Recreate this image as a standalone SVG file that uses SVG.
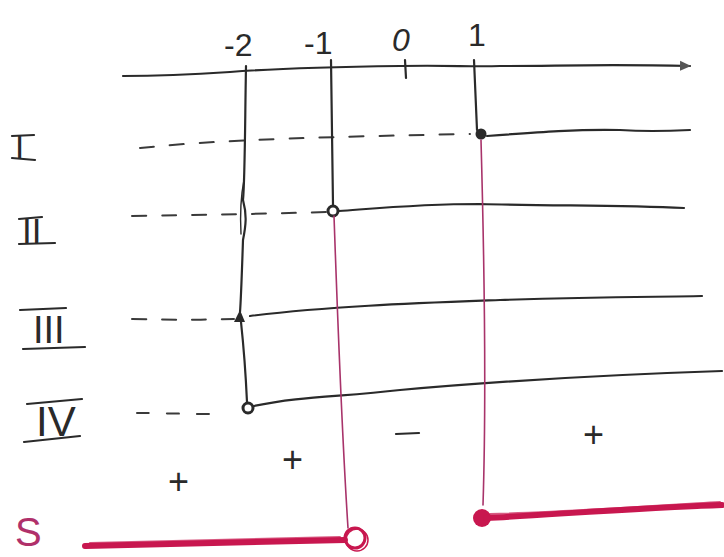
<svg xmlns="http://www.w3.org/2000/svg" width="724" height="557" viewBox="0 0 724 557">
<style>
.ink{fill:none;stroke:#2a2a2a;stroke-width:2.2;stroke-linecap:round;stroke-linejoin:round}
.dash{fill:none;stroke:#3a3a3a;stroke-width:2;stroke-linecap:round;stroke-dasharray:14 16}
.pk{fill:none;stroke:#a8336a;stroke-width:1.6;stroke-linecap:round}
.pkb{fill:none;stroke:#c8174f;stroke-width:6;stroke-linecap:round}
.lbl{font-family:"Liberation Sans",Arial,sans-serif;font-size:32px;fill:#2a2a2a;font-weight:300}
.rom{font-family:"Liberation Sans",Arial,sans-serif;fill:#2a2a2a;font-weight:300}
.sign{font-family:"Liberation Sans",Arial,sans-serif;font-size:36px;fill:#2a2a2a;font-weight:300}
</style>
<defs>
<marker id="arr" markerWidth="12" markerHeight="12" refX="10" refY="6" orient="auto" markerUnits="userSpaceOnUse">
<path d="M0,1 L11,6 L0,11 Z" fill="#555"/>
</marker>
</defs>

<g id="axis">
<path class="ink" d="M123,76 C160,76 200,74 230,72 C280,68 330,67 400,66 C450,65 470,67 500,66 C560,66 600,64 690,66" marker-end="url(#arr)"/>
<path class="ink" d="M405,60 L406,78"/>
<text class="lbl" x="224" y="56">-2</text>
<text class="lbl" x="304" y="54">-1</text>
<text class="lbl" x="392" y="51" style="font-style:italic">0</text>
<text class="lbl" x="468" y="46">1</text>
</g>

<g id="labels">
<text class="rom" x="15" y="159" style="font-size:33px">I</text>
<path class="ink" d="M12,136 L34,135 M12,158 L35,160"/>
<text class="rom" x="22" y="243" style="font-size:35px">II</text>
<path class="ink" d="M19,219 L42,217 M19,244 L55,243"/>
<text class="rom" x="33" y="343" style="font-size:38px">III</text>
<path class="ink" d="M20,310 L66,308 M23,349 L85,347"/>
<text class="rom" x="36" y="436" style="font-size:42px">IV</text>
<path class="ink" d="M27,404 L82,399 M24,442 L80,436"/>
</g>

<g id="row1">
<path class="dash" d="M140,148 C200,142 260,138 470,134"/>
<circle cx="481" cy="134" r="5.5" fill="#2a2a2a"/>
<path class="ink" d="M487,136 C540,132 580,129 620,130 C650,132 670,131 690,130"/>
</g>
<g id="row2">
<path class="dash" d="M132,216 C200,215 260,214 326,212"/>
<circle cx="333" cy="211" r="5" fill="none" stroke="#2a2a2a" stroke-width="3"/>
<path class="ink" d="M339,211 C380,208 420,204 480,204 C560,206 620,205 684,208"/>
</g>
<g id="row3">
<path class="dash" d="M132,319 C170,320 200,320 234,319"/>
<path d="M234,322 L240,310 L245,322 Z" fill="#2a2a2a"/>
<path class="ink" d="M250,316 C330,306 420,303 500,300 C600,297 650,297 702,296"/>
</g>
<g id="row4">
<path class="dash" d="M137,413 C160,413 185,414 210,414" style="stroke-dasharray:12 18"/>
<circle cx="248" cy="408" r="5" fill="none" stroke="#2a2a2a" stroke-width="3"/>
<path class="ink" d="M254,406 C300,396 340,397 400,390 C500,381 600,375 722,371"/>
</g>

<g id="verticals">
<path class="ink" d="M246,66 C245,120 245,180 243,200 C247,215 246,225 243,240 C242,270 241,300 240,312"/>
<path class="ink" d="M244,180 C240,200 240,215 241,234" style="stroke-width:1.4"/>
<path class="ink" d="M241,322 C244,350 246,380 247,402"/>
<path class="ink" d="M331,60 L333,205"/>
<path class="ink" d="M474,60 L477,130"/>
<path class="pk" d="M334,216 C337,300 341,420 348,528"/>
<path class="pk" d="M481,140 C484,250 487,380 483,505"/>
</g>

<g id="signs">
<text class="sign" x="168" y="494">+</text>
<text class="sign" x="282" y="472">+</text>
<path class="ink" d="M396,434 L419,433"/>
<text class="sign" x="583" y="447">+</text>
</g>

<g id="solution">
<text x="15" y="546" style="font-family:'Liberation Sans',Arial,sans-serif;font-size:40px;font-weight:300;fill:#b0306a">S</text>
<path class="pkb" d="M85,546 C160,545 250,542 345,540"/>
<path class="pkb" d="M90,543 C180,541 260,539 340,537" style="stroke-width:2;opacity:0.7"/>
<circle cx="355" cy="538" r="10" fill="none" stroke="#c8174f" stroke-width="3"/>
<circle cx="357" cy="540" r="11" fill="none" stroke="#c8174f" stroke-width="1.5"/>
<circle cx="482" cy="518" r="9" fill="#c8174f"/>
<path class="pkb" d="M486,518 C560,514 640,508 722,505"/>
<path class="pkb" d="M490,514 C570,512 650,506 720,502" style="stroke-width:2;opacity:0.7"/>
</g>
</svg>
